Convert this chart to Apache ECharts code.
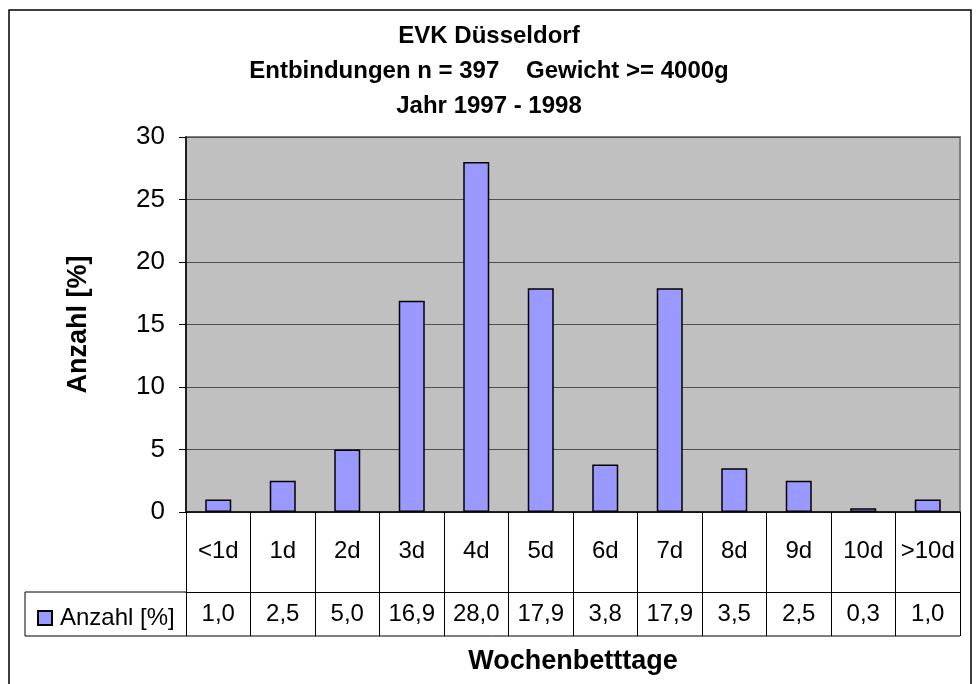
<!DOCTYPE html>
<html>
<head>
<meta charset="utf-8">
<script src="https://cdn.jsdelivr.net/npm/echarts@6/dist/echarts.min.js"></script>
<style>
  html, body { margin: 0; padding: 0; background: #fff; }
  #chart { width: 978px; height: 684px; }
</style>
</head>
<body>
<div id="chart"></div>
<script>
// Daten
const categories = ['<1d', '1d', '2d', '3d', '4d', '5d', '6d', '7d', '8d', '9d', '10d', '>10d'];
const anzahl = [1.0, 2.5, 5.0, 16.9, 28.0, 17.9, 3.8, 17.9, 3.5, 2.5, 0.3, 1.0];
const yTicks = [0, 5, 10, 15, 20, 25, 30];
const seriesName = 'Anzahl [%]';
const titleLines = ['EVK Düsseldorf', 'Entbindungen n = 397    Gewicht >= 4000g', 'Jahr 1997 - 1998'];
const xName = 'Wochenbetttage';

const font = '"Liberation Sans", Arial, sans-serif';
const fmt = v => v.toFixed(1).replace('.', ',');

const chart = echarts.init(document.getElementById('chart'), null, { renderer: 'canvas' });

chart.setOption({
  backgroundColor: '#fff',
  animation: false,
  textStyle: { fontFamily: font, color: '#000' },
  title: {
    text: titleLines.join('\n'),
    left: 'center',
    top: 14,
    textStyle: { fontSize: 24, fontWeight: 'bold', lineHeight: 35, color: '#000', fontFamily: font }
  },
  legend: {
    left: 32,
    top: 601,
    itemWidth: 14,
    itemHeight: 14,
    icon: 'rect',
    textStyle: { fontSize: 24, color: '#000', fontFamily: font, padding: [0, 0, 0, 3] },
    data: [seriesName]
  },
  grid: {
    left: 186,
    right: 18,
    top: 137,
    bottom: 172,
    show: true,
    backgroundColor: '#c0c0c0',
    borderColor: '#808080',
    borderWidth: 2
  },
  xAxis: [{
    type: 'category',
    data: categories,
    position: 'bottom',
    axisLine: { lineStyle: { color: '#000', width: 1.5 } },
    axisTick: { show: true, length: 124, interval: 0, lineStyle: { color: '#000', width: 1 } },
    axisLabel: { interval: 0, margin: 27, fontSize: 24, color: '#000', fontFamily: font },
    splitLine: { show: false }
  }, {
    type: 'category',
    data: anzahl.map(fmt),
    position: 'bottom',
    offset: 80,
    name: xName,
    nameLocation: 'middle',
    nameGap: 56,
    nameTextStyle: { fontSize: 27, fontWeight: 'bold', color: '#000', fontFamily: font },
    axisLine: { lineStyle: { color: '#000', width: 1 } },
    axisTick: { show: false },
    axisLabel: { interval: 0, margin: 10, fontSize: 24, color: '#000', fontFamily: font },
    splitLine: { show: false }
  }],
  yAxis: {
    type: 'value',
    min: yTicks[0],
    max: yTicks[yTicks.length - 1],
    interval: 5,
    name: seriesName,
    nameLocation: 'middle',
    nameGap: 94,
    nameRotate: 90,
    nameTextStyle: { fontSize: 27, fontWeight: 'bold', color: '#000', fontFamily: font },
    axisLine: { show: true, lineStyle: { color: '#000', width: 1.5 } },
    axisTick: { show: true, length: 7, lineStyle: { color: '#000' } },
    axisLabel: { margin: 21, fontSize: 26, color: '#000', fontFamily: font },
    splitLine: { show: true, lineStyle: { color: '#505050', width: 1.2 } }
  },
  series: [{
    name: seriesName,
    type: 'bar',
    data: anzahl,
    barWidth: 26,
    itemStyle: { color: '#9999ff', borderColor: '#000', borderWidth: 1.5 }
  }],
  graphic: [
    // Rahmen des Diagramms
    { type: 'rect', shape: { x: 9, y: 10, width: 962, height: 700 }, style: { fill: 'none', stroke: '#000', lineWidth: 1.5 }, silent: true },
    // Datentabelle: Legendenzelle
    { type: 'line', shape: { x1: 25, y1: 592, x2: 186, y2: 592 }, style: { stroke: '#000', lineWidth: 1 }, silent: true },
    { type: 'line', shape: { x1: 25, y1: 636, x2: 960, y2: 636 }, style: { stroke: '#000', lineWidth: 1 }, silent: true },
    { type: 'line', shape: { x1: 25, y1: 592, x2: 25, y2: 636 }, style: { stroke: '#000', lineWidth: 1 }, silent: true }
  ]
});
</script>
</body>
</html>
